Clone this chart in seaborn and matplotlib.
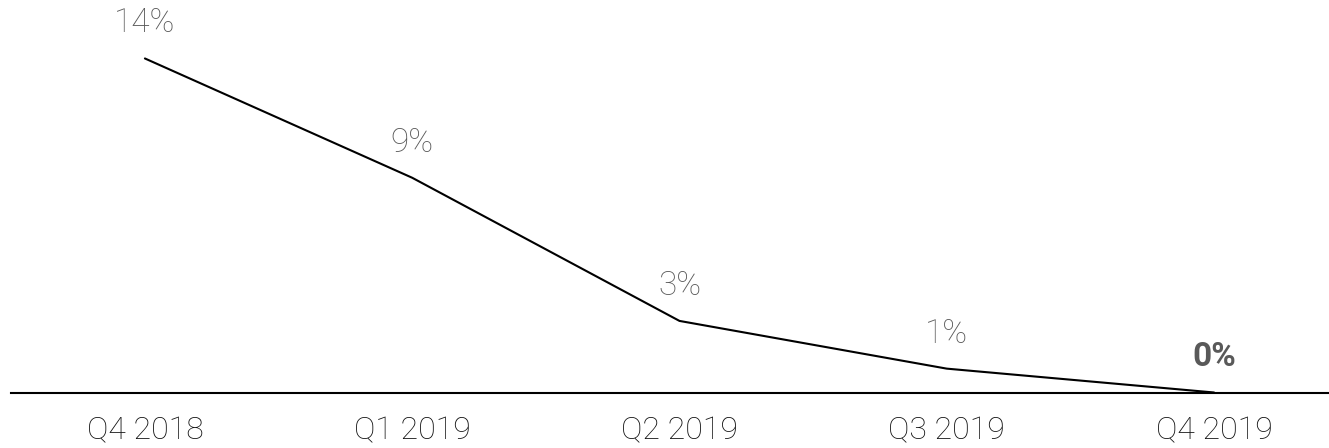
import matplotlib
matplotlib.use("Agg")
import matplotlib.pyplot as plt
import seaborn as sns
import pandas as pd

quarters = ["Q4 2018", "Q1 2019", "Q2 2019", "Q3 2019", "Q4 2019"]
values = [14, 9, 3, 1, 0]
labels = ["14%", "9%", "3%", "1%", "0%"]

sns.set_style("white")
plt.rcParams['font.family'] = ['Roboto', 'DejaVu Sans']

df = pd.DataFrame({"pos": range(len(quarters)), "value": values})

fig = plt.figure(figsize=(13.29, 4.48), dpi=100)
ax = fig.add_axes([11/1329, 1-392.5/448, 1318/1329, 392.5/448])
sns.lineplot(data=df, x="pos", y="value", ax=ax, color="black", linewidth=1.5)

ax.set_xlim(-0.501, 4.430)
ax.set_ylim(0, 16.45)
for s in ["top", "left", "right"]:
    ax.spines[s].set_visible(False)
ax.spines["bottom"].set_color("black")
ax.spines["bottom"].set_linewidth(1.5)
ax.set_yticks([])
ax.set_xticks(range(len(quarters)))
ax.set_xticklabels(quarters, fontsize=23, color="#111111", fontweight="light")
ax.tick_params(axis="x", length=0, pad=17)
ax.set_xlabel("")
ax.set_ylabel("")

for i, (v, lab) in enumerate(zip(values, labels)):
    last = i == len(values) - 1
    ax.annotate(lab, (i, v), xytext=(0, 26), textcoords="offset pixels",
                ha="center", va="baseline", fontsize=24,
                color="#595959", fontweight="bold" if last else "light")

fig.savefig("out.png", dpi=100)
